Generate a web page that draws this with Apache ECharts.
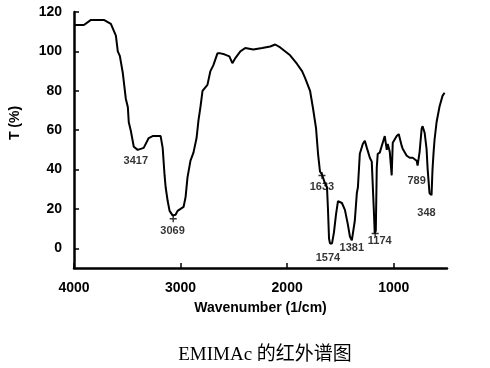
<!DOCTYPE html>
<html>
<head>
<meta charset="utf-8">
<script src="https://cdn.jsdelivr.net/npm/echarts@6/dist/echarts.min.js"></script>
<style>
html,body{margin:0;padding:0;background:#fff;}
#c{width:490px;height:368px;}
</style>
</head>
<body>
<div id="c"></div>
<script>
// Spectrum trace: wavenumber (1/cm) and transmittance (%)
var wavenumbers = [3990,3907,3841,3720,3654,3607,3589,3570,3542,3514,3495,3486,3467,3439,3402,3346,3299,3262,3187,3168,3159,3150,3140,3121,3103,3075,3047,3028,3000,2972,2953,2935,2907,2879,2850,2832,2813,2794,2748,2720,2692,2654,2626,2589,2542,2514,2486,2439,2393,2318,2234,2159,2112,2065,1972,1907,1860,1832,1785,1757,1729,
  1710,1692,1673,1645,1626,1617,1607,1598,1589,1579,1561,1542,1523,1505,1486,1458,1430,1411,1393,1383,1365,1346,1336,1318,1290,1271,1252,1243,1224,1206,1187,1178,1168,1159,1150,1131,1112,1084,1065,1056,1037,1019,1009,972,953,925,916,878,850,822,785,776,757,738,729,710,692,682,664,645,636,626,617,598,570,542,523];
var transmittance = [113.4,113.4,116,116,114,108,100,97.7,89,76,71.8,64,59.7,51.6,50,51,56,57,57,51,44,37,31,24,19,16.7,17,19,20,21,26,36,44.5,48.6,56,65,72,80,83,90,93,99,99,98.5,97.5,94,96.6,100,101.7,101,101.7,102.5,103.5,102,98,93.6,90,86.5,80,71,61,
  48,39,37.5,33,31,20,5,2.5,3,2.5,8,17,24,23,23,19.5,12,6,4,4,14,28,31,48,53,54.6,51,50,46,44,20,7.6,9,41,48,48.6,52,57,50,53,49,37,53.6,57,58,52,50.6,47,46,46,44.5,42,49,60.7,62,58.7,50.6,40.5,28,27,40,48.6,55,64,72,77.4,79];

// Peak annotations
var peakText = ['3417','3069','1633','1574','1381','1174','789','348'];
var peakLabelWn = [3420,3075,1673,1617,1393,1131,785,692];
var peakLabelT = [44.5,8.6,31,-5,0,3.5,34.4,18];
var markerWn = [3069,1673,1174];
var markerT = [15,37,7.5];

// Axis ticks
var xTicks = [4000,3000,2000,1000];
var yTicks = [0,20,40,60,80,100,120];

var lineData = wavenumbers.map(function(w,i){return [w, transmittance[i]];});
var labelData = peakText.map(function(t,i){return {value:[peakLabelWn[i], peakLabelT[i]], name:t};});
var markerData = markerWn.map(function(w,i){return [w, markerT[i]];});

var chart = echarts.init(document.getElementById('c'), null, {renderer:'canvas'});
var FONT = 'Liberation Sans, Arial, sans-serif';
chart.setOption({
  animation:false,
  backgroundColor:'#fff',
  grid:{left:74, right:43, top:12, bottom:100},
  xAxis:{
    type:'value', min:500, max:4000, inverse:true,
    name:'Wavenumber (1/cm)', nameLocation:'middle', nameGap:33,
    nameTextStyle:{color:'#000', fontFamily:FONT, fontWeight:'bold', fontSize:14},
    axisLine:{show:true, onZero:false, lineStyle:{color:'#000', width:2.5}},
    axisTick:{show:true, inside:true, length:5, lineStyle:{color:'#000', width:1.5}, customValues:xTicks},
    axisLabel:{margin:13, customValues:xTicks, color:'#000', fontFamily:FONT, fontWeight:'bold', fontSize:14,
      formatter:function(v){return String(v);}},
    splitLine:{show:false}
  },
  yAxis:{
    type:'value', min:-10, max:120,
    axisLine:{show:true, onZero:false, lineStyle:{color:'#000', width:2.5}},
    axisTick:{show:true, inside:true, length:5, lineStyle:{color:'#000', width:1.5}, customValues:yTicks},
    axisLabel:{margin:12, customValues:yTicks, color:'#000', fontFamily:FONT, fontWeight:'bold', fontSize:14,
      formatter:function(v){return String(v);}},
    splitLine:{show:false}
  },
  graphic:[{
    type:'text', x:15, y:123, rotation:Math.PI/2,
    style:{text:'T (%)', fill:'#000', font:'bold 14px Liberation Sans, Arial, sans-serif', textAlign:'center', textVerticalAlign:'middle'}
  },{
    type:'text', x:265, y:355,
    style:{text:'EMIMAc 的红外谱图', fill:'#000', font:'19px "Liberation Serif", "Noto Sans CJK SC", serif', textAlign:'center', textVerticalAlign:'middle'}
  }],
  series:[{
    type:'line', data:lineData, showSymbol:false, smooth:false,
    lineStyle:{color:'#000', width:2}, z:3
  },{
    type:'scatter', data:labelData, symbolSize:0,
    label:{show:true, position:'inside', formatter:function(p){return p.name;}, color:'#000', fontFamily:FONT, fontWeight:'bold', fontSize:11},
    z:4
  },{
    type:'scatter', data:markerData, symbol:'path://M4,0h2v4h4v2h-4v4h-2v-4h-4v-2h4z', symbolSize:7,
    itemStyle:{color:'#000'}, z:4
  }]
});
</script>
</body>
</html>
